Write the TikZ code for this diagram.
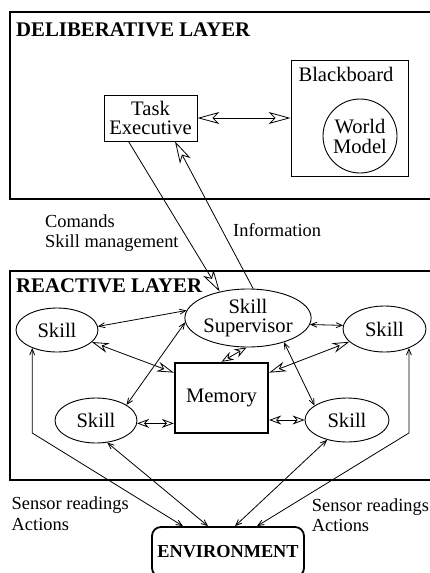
\documentclass[tikz,border=0pt]{standalone}
\usepackage{fontspec}
\setmainfont{Liberation Serif}
\usetikzlibrary{arrows.meta,shapes.geometric,calc}

% font sizes (picture units are points)
\newcommand\diagfont{\fontsize{20.6}{19.5}\selectfont}
\newcommand\worldfont{\fontsize{20.6}{20}\selectfont}
\newcommand\notefont{\fontsize{18.4}{20}\selectfont}
\newcommand\envfont{\fontsize{18.3}{20}\selectfont\bfseries}

\tikzset{
  openL/.tip={Stealth[open,length=22pt,width=12pt,inset=6pt]},
  openM/.tip={Stealth[open,length=17pt,width=10pt,inset=5.5pt]},
  openS/.tip={Stealth[open,length=12pt,width=9pt,inset=4pt]},
  barb/.tip={Straight Barb[length=6pt,width=5pt]},
  layerframe/.style={draw,line width=1.8pt},
  laytitle/.style={font=\fontsize{20.8}{20}\selectfont\bfseries,anchor=base west,inner sep=0pt},
  box/.style={draw,line width=0.9pt,align=center,inner sep=0pt,font=\diagfont},
  skill/.style={draw,ellipse,line width=0.9pt,inner sep=0pt,align=center,font=\diagfont},
  lbl/.style={font=\notefont,anchor=base west,inner sep=0pt},
  link/.style={line width=0.8pt},
}

\begin{document}
\begin{tikzpicture}[x=1pt,y=-1pt]
\clip (0,0) rectangle (430,573);

% layer frames
\draw[layerframe] (10,12) rectangle (445,199);
\draw[layerframe] (10,271) rectangle (445,480);
\node[laytitle] (dtitle) at (16,36.7) {DELIBERATIVE LAYER};
\node[laytitle] (rtitle) at (16,292.5) {REACTIVE LAYER};

% deliberative layer
\node[box,minimum width=93pt,minimum height=46pt] (task) at (150.5,118) {Task\\Executive};
\node[box,minimum width=117pt,minimum height=116pt] (bb) at (349.5,118) {};
\node[font=\diagfont,anchor=base,inner sep=0pt] (bbtitle) at (346,81.7) {Blackboard};
\node[draw,circle,line width=0.9pt,minimum size=74pt,inner sep=0pt,align=center,font=\worldfont] (world) at (360,136) {World\\Model};

% reactive layer
\node[skill,minimum width=111pt,minimum height=58pt] (sup) at (248,318) {Skill\\Supervisor};
\node[skill,minimum width=82pt,minimum height=44pt] (skl) at (57,330) {Skill};
\node[skill,minimum width=83pt,minimum height=46pt] (skr) at (384.5,329) {Skill};
\node[box,line width=2.4pt,minimum width=93pt,minimum height=70pt] (mem) at (221.5,398) {Memory};
\node[skill,minimum width=82pt,minimum height=45pt] (skll) at (96,420.5) {Skill};
\node[skill,minimum width=84pt,minimum height=44pt] (sklr) at (347,420) {Skill};

% environment
\node[draw,rounded corners=9pt,line width=1.8pt,minimum width=152pt,minimum height=50pt,inner sep=0pt,font=\envfont] (env) at (228,552) {ENVIRONMENT};

% labels
\node[lbl] (cmd1) at (45,227) {Comands};
\node[lbl] (cmd2) at (45,247) {Skill management};
\node[lbl] (info) at (233,236.7) {Information};
\node[lbl] (sl1) at (11.5,509.5) {Sensor readings};
\node[lbl] (sl2) at (11.5,530) {Actions};
\node[lbl] (sr1) at (311.7,511) {Sensor readings};
\node[lbl] (sr2) at (311.7,531.5) {Actions};

% connectors between the layers
\draw[link,openL-openL] (task) -- (bb);
\draw[link,-openL] ([xshift=-22pt]task.south) -- (sup.137);
\draw[link,-openL] (sup.80) -- ([xshift=24.5pt]task.south);

% connectors inside the reactive layer
\draw[link,barb-barb] (skl.5) -- (sup.173.5);
\draw[link,barb-barb] (sup.354.5) -- (skr.175.5);
\draw[link,openM-openM] (skl.341) -- (mem.152);
\draw[link,openM-openM] (skr.200) -- (mem.28);
\draw[link,openS-openS] (sup.267) -- (mem.north);
\draw[link,barb-barb] (skll.27) -- (sup.184);
\draw[link,barb-barb] (sklr.156) -- (sup.326);
\draw[link,openS-openS] (skll.356) -- (skll.356 -| mem.west);
\draw[link,openS-openS] (mem.east |- sklr.west) -- (sklr.west);

% connectors to the environment
\coordinate (lbend) at (33,433);
\coordinate (rbend) at (408,433);
\draw[link,barb-barb] (skl.216.6) -- (skl.216.6 |- lbend) -- ([xshift=-45pt]env.north);
\draw[link,barb-barb] (skr.322.4) -- (skr.322.4 |- rbend) -- ([xshift=29pt]env.north);
\draw[link,barb-barb] (skll.297) -- ([xshift=-20pt]env.north);
\draw[link,barb-barb] (sklr.225.5) -- ([xshift=7pt]env.north);
\end{tikzpicture}
\end{document}
